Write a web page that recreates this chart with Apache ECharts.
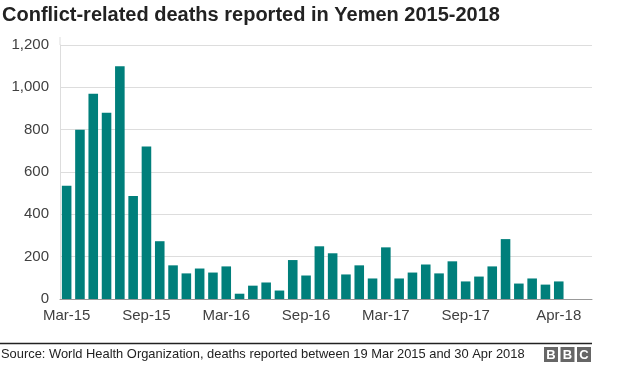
<!DOCTYPE html>
<html><head><meta charset="utf-8">
<script src="https://cdn.jsdelivr.net/npm/echarts@6/dist/echarts.min.js"></script>
<style>html,body{margin:0;padding:0;background:#fff}#c{width:624px;height:367px}</style>
</head><body><div id="c"></div>
<script>
const months = ['Mar-15','Apr-15','May-15','Jun-15','Jul-15','Aug-15','Sep-15','Oct-15','Nov-15','Dec-15',
 'Jan-16','Feb-16','Mar-16','Apr-16','May-16','Jun-16','Jul-16','Aug-16','Sep-16','Oct-16','Nov-16','Dec-16',
 'Jan-17','Feb-17','Mar-17','Apr-17','May-17','Jun-17','Jul-17','Aug-17','Sep-17','Oct-17','Nov-17','Dec-17',
 'Jan-18','Feb-18','Mar-18','Apr-18','May-18','Jun-18'];
const deaths = [535,800,970,880,1100,487,720,273,159,121,144,125,154,25,63,78,40,184,111,249,216,116,159,97,244,97,125,163,121,178,83,106,154,283,73,97,68,83];
const tickLabels = ['Mar-15','Sep-15','Mar-16','Sep-16','Mar-17','Sep-17','Apr-18'];
const yTicks = [0,200,400,600,800,1000,1200];

const chart = echarts.init(document.getElementById('c'), null, {renderer:'canvas'});
const font = 'Arial, "Liberation Sans", Helvetica, sans-serif';
chart.setOption({
  animation:false,
  textStyle:{fontFamily:font},
  grid:{left:60,right:32,top:45,bottom:68,containLabel:false},
  xAxis:{
    type:'category', data:months,
    axisLine:{lineStyle:{color:'#999',width:1}},
    axisTick:{show:false},
    axisLabel:{
      interval:0, margin:9, fontSize:15, color:'#404040', fontFamily:font,
      formatter:function(v){return tickLabels.indexOf(v)>=0?v:'';}
    },
    splitLine:{show:false}
  },
  yAxis:{
    type:'value', min:yTicks[0], max:yTicks[yTicks.length-1], interval:200,
    axisLine:{show:true,lineStyle:{color:'#ddd'}},
    axisTick:{show:false},
    axisLabel:{margin:11, fontSize:15, color:'#404040', fontFamily:font,
      formatter:function(v){return v.toLocaleString('en-US');}},
    splitLine:{lineStyle:{color:'#ddd',width:1}}
  },
  series:[{
    type:'bar', data:deaths, barCategoryGap:'28%',
    itemStyle:{color:'#007f7b'}
  }],
  graphic:[
    {type:'text', left:2, top:5, style:{text:'Conflict-related deaths reported in Yemen 2015-2018',
      font:'bold 20px '+font, fill:'#222'}},
    {type:'line', shape:{x1:60,y1:37,x2:60,y2:45}, style:{stroke:'#ddd',lineWidth:1}},
    {type:'line', shape:{x1:0,y1:343.5,x2:592,y2:343.5}, style:{stroke:'#222',lineWidth:1.3}},
    {type:'text', left:1, top:348, style:{text:'Source: World Health Organization, deaths reported between 19 Mar 2015 and 30 Apr 2018',
      font:'12.9px '+font, fill:'#222'}},
    {type:'rect', shape:{x:544,y:347,width:14,height:15}, style:{fill:'#666'}},
    {type:'rect', shape:{x:560.5,y:347,width:14,height:15}, style:{fill:'#666'}},
    {type:'rect', shape:{x:577,y:347,width:14,height:15}, style:{fill:'#666'}},
    {type:'text', x:551, y:355, style:{text:'B', font:'bold 13px '+font, fill:'#fff', align:'center', verticalAlign:'middle'}},
    {type:'text', x:567.5, y:355, style:{text:'B', font:'bold 13px '+font, fill:'#fff', align:'center', verticalAlign:'middle'}},
    {type:'text', x:584, y:355, style:{text:'C', font:'bold 13px '+font, fill:'#fff', align:'center', verticalAlign:'middle'}}
  ]
});
</script></body></html>
